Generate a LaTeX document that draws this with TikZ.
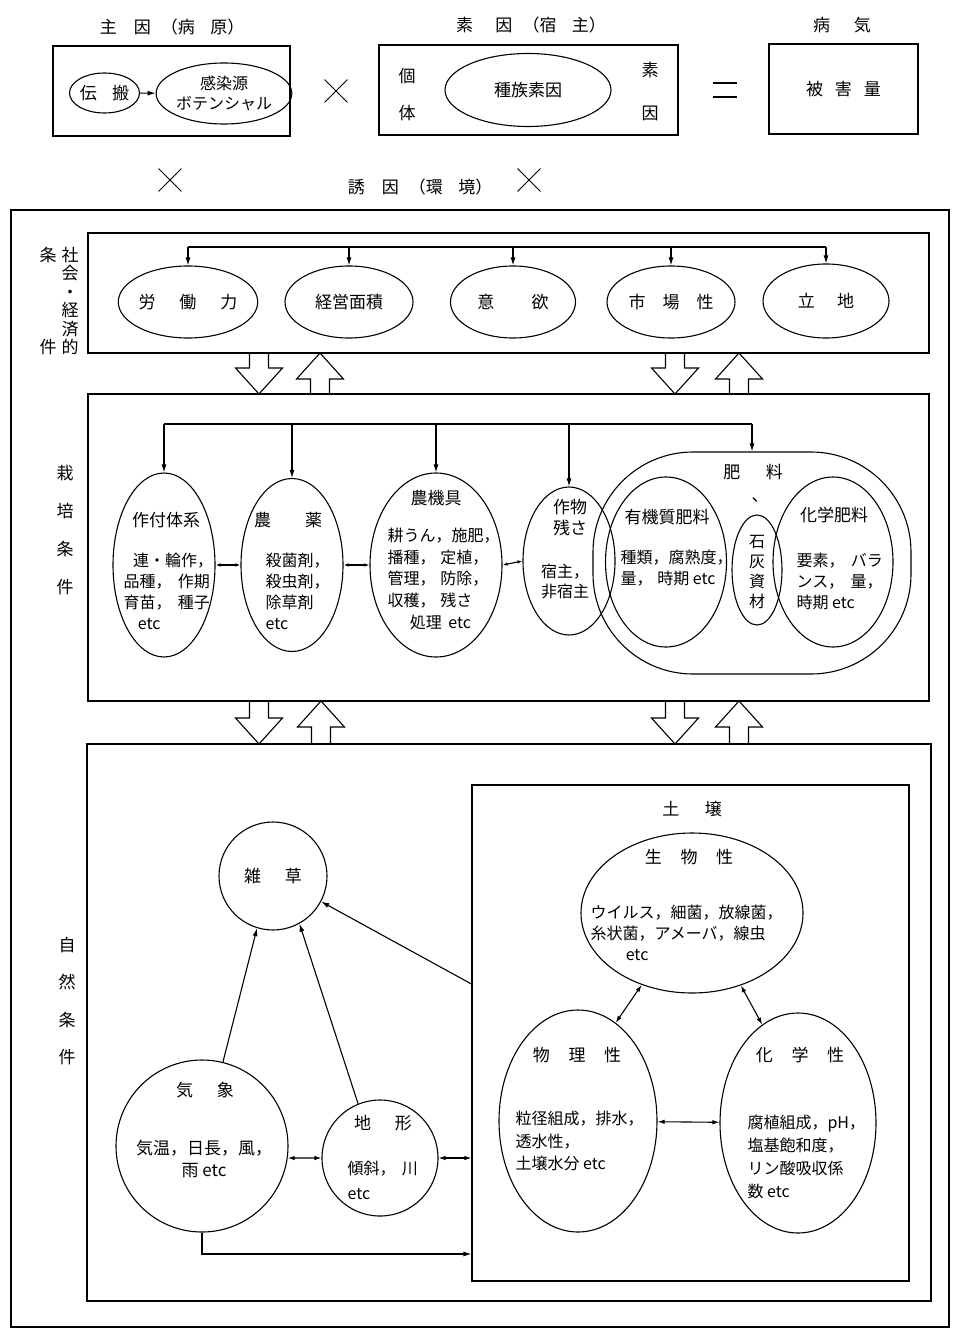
\documentclass[tikz,border=0pt]{standalone}
\usepackage{fontspec}
\setmainfont{Noto Sans CJK JP}
\usetikzlibrary{shapes.geometric,shapes.misc,arrows.meta}

\tikzset{
  oval/.style={draw, ellipse, inner sep=0pt},
  txt/.style={inner sep=0pt, align=left, anchor=north west, font=\fontsize{16}{21}\selectfont},
  tip/.style={-{Latex[length=8pt,width=5pt]}},
  both/.style={{Latex[length=7pt,width=4.5pt]}-{Latex[length=7pt,width=4.5pt]}},
  tiny/.style={{Latex[length=5pt,width=3.5pt]}-{Latex[length=5pt,width=3.5pt]}},
  times/.style={cross out, draw, minimum size=22pt, line width=0.9pt}
}

\begin{document}
\begin{tikzpicture}[x=1pt, y=-1pt, line width=1.1pt, font=\fontsize{17}{21}\selectfont]
\useasboundingbox (0,0) rectangle (952,1329);

% top: pathogen x host = disease
\node (t1) at (172,27) {主\hspace{1em}因\hspace{.6em}（病\hspace{.9em}原）};
\node (t2) at (531,25) {素\hspace{1.3em}因\hspace{.6em}（宿\hspace{.9em}主）};
\node (t3) at (842,25) {病\hspace{1.4em}気};
\node[draw, minimum width=237, minimum height=90] (pbox) at (171.5,91) {};
\node[oval, minimum width=70, minimum height=40] (den) at (104.5,93) {伝\hspace{.9em}搬};
\node[oval, minimum width=114, minimum height=61, align=center, font=\fontsize{16}{20}\selectfont] (kan) at (224,93.5) {感染源\\ボテンシャル};
\draw[tip] (den) -- (kan);
\node[times] (x1) at (336,91) {};
\node[draw, minimum width=299, minimum height=90] (hbox) at (528.5,90) {};
\node[oval, minimum width=166, minimum height=73] (shu) at (528,90) {種族素因};
\node (ko) at (407,76) {個};
\node (tai) at (407,113) {体};
\node (so) at (650,70) {素};
\node (inn) at (650,113) {因};
\draw (713,83) -- (737,83) (713,97) -- (737,97);
\node[draw, minimum width=149, minimum height=90] (dbox) at (843.5,89) {被\hspace{.7em}害\hspace{.7em}量};
\node[times] (x2) at (170,180) {};
\node (t4) at (420,187) {誘\hspace{1em}因\hspace{.6em}（環\hspace{.9em}境）};
\node[times] (x3) at (529,180) {};

% environment frame
\draw (11,210) rectangle (949,1327);

% socio-economic
\draw (88,233) rectangle (929,353);
\node[align=center, font=\fontsize{17}{18.4}\selectfont] (lab1) at (70,301) {社\\会\\・\\経\\済\\的};
\node (lab1a) at (48,255) {条};
\node (lab1b) at (48,347) {件};
\node[oval, minimum width=126, minimum height=72] (l1) at (188,302) {労\hspace{1.4em}働\hspace{1.4em}力};
\node[oval, minimum width=128, minimum height=72] (l2) at (349,302) {経営面積};
\node[oval, minimum width=125, minimum height=72] (l3) at (513,302) {意\hspace{2.2em}欲};
\node[oval, minimum width=128, minimum height=72] (l4) at (671,302) {市\hspace{1em}場\hspace{1em}性};
\node[oval, minimum width=126, minimum height=74] (l5) at (826,301) {立\hspace{1.3em}地};
\coordinate (bus1) at (0,247);
\draw (l1.north |- bus1) -- (l5.north |- bus1);
\foreach \n in {l1,l2,l3,l4,l5}
  \draw[tip] (\n.north |- bus1) -- (\n.north);

% block arrows between the layers
\foreach \x/\a/\b in {259/353/394, 675/353/394, 259/701/744, 675/701/744}
  \draw (\x-9.5,\a) -- (\x-9.5,\b-26) -- (\x-23.5,\b-26) -- (\x,\b) -- (\x+23.5,\b-26) -- (\x+9.5,\b-26) -- (\x+9.5,\a);
\foreach \x/\a/\b in {320/353/394, 739/353/394, 321/701/744, 739/701/744}
  \draw (\x-9.5,\b) -- (\x-9.5,\a+26) -- (\x-23.5,\a+26) -- (\x,\a) -- (\x+23.5,\a+26) -- (\x+9.5,\a+26) -- (\x+9.5,\b);

% cultivation
\draw (88,394) rectangle (929,701);
\node[align=center, font=\fontsize{17}{38}\selectfont] (lab2) at (65,530) {栽\\培\\条\\件};
\node[oval, minimum width=102, minimum height=184] (c1) at (164,565) {};
\node[oval, minimum width=102, minimum height=173] (c2) at (292,565) {};
\node[oval, minimum width=132, minimum height=184] (c3) at (436,565) {};
\node[oval, minimum width=92, minimum height=148] (c4) at (569,561) {};
\node[draw, rounded corners=100pt, minimum width=318, minimum height=222, inner sep=0pt] (fert) at (752,563) {};
\node[oval, minimum width=121, minimum height=170] (c5) at (666,562) {};
\node[oval, minimum width=50, minimum height=110] (c6) at (757,570) {};
\node[oval, minimum width=120, minimum height=170] (c7) at (833,562) {};
\coordinate (bus2) at (0,424);
\draw (c1.north |- bus2) -- (fert.north |- bus2);
\foreach \n in {c1,c2,c3,c4,fert}
  \draw[tip] (\n.north |- bus2) -- (\n.north);
\draw[tiny] (c1.east) -- (c2.west);
\draw[tiny] (c2.east) -- (c3.west);
\draw[tiny] (c3.east) -- (c4.west);

\node (c1t) at (166,520) {作付体系};
\node[txt] (c1b) at (123,552.5) {\hspace*{.6em}連・輪作，\\品種，\hspace*{.4em}作期\\育苗，\hspace*{.4em}種子\\\hspace*{.9em}etc};
\node (c2t) at (288,520) {農\hspace{2em}薬};
\node[txt] (c2b) at (265,552.5) {殺菌剤，\\殺虫剤，\\除草剤\\etc};
\node (c3t) at (436,498) {農機具};
\node[txt, font=\fontsize{16}{21.7}\selectfont] (c3b) at (387,527.5) {耕うん，施肥，\\播種，\hspace*{.3em}定植，\\管理，\hspace*{.3em}防除，\\収穫，\hspace*{.3em}残さ\\\hspace*{1.4em}処理\hspace*{.4em}etc};
\node[align=center] (c4t) at (570,517.5) {作物\\残さ};
\node[align=center, font=\fontsize{16}{20}\selectfont] (c4b) at (565,582) {宿主，\\非宿主};
\node (ft) at (753,472) {肥\hspace{1.5em}料};
\node (fc) at (760,500) {、};
\node (c5t) at (667,517) {有機質肥料};
\node[txt] (c5b) at (620,549.5) {種類，腐熟度，\\量，\hspace*{.3em}時期 etc};
\node[align=center, font=\fontsize{16}{20}\selectfont] (c6t) at (757,572) {石\\灰\\資\\材};
\node (c7t) at (834,515) {化学肥料};
\node[txt] (c7b) at (796,552.5) {要素，\hspace*{.4em}バラ\\ンス，\hspace*{.4em}量，\\時期 etc};

% natural conditions
\draw (87,744) rectangle (931,1301);
\node[align=center, font=\fontsize{17}{37.5}\selectfont] (lab3) at (67,1001) {自\\然\\条\\件};
\node[draw, minimum width=437, minimum height=496, inner sep=0pt] (soil) at (690.5,1033) {};
\node (st) at (692,809) {土\hspace{1.5em}壌};
\node[oval, minimum width=222, minimum height=160] (bio) at (692,913) {};
\node[oval, minimum width=158, minimum height=222] (phys) at (578,1121) {};
\node[oval, minimum width=156, minimum height=220] (chem) at (798,1123) {};
\node (biot) at (689,857) {生\hspace{1.1em}物\hspace{1.1em}性};
\node[txt] (biob) at (590,904.5) {ウイルス，細菌，放線菌，\\糸状菌，アメーバ，線虫\\\hspace*{2.2em}etc};
\node (physt) at (577,1055) {物\hspace{1.1em}理\hspace{1.1em}性};
\node[txt, font=\fontsize{16}{22.5}\selectfont] (physb) at (515,1110.5) {粒径組成，排水，\\透水性，\\土壌水分 etc};
\node (chemt) at (800,1055) {化\hspace{1.1em}学\hspace{1.1em}性};
\node[txt, font=\fontsize{16}{23}\selectfont] (chemb) at (747,1114.5) {腐植組成，pH，\\塩基飽和度，\\リン酸吸収係\\数 etc};
\draw[both] (bio.235) -- (phys.69);
\draw[both] (bio.304) -- (chem.110);
\draw[both] (phys) -- (chem);

\node[draw, circle, minimum size=108, inner sep=0pt] (weed) at (273,876) {雑\hspace{1.4em}草};
\node[draw, circle, minimum size=172, inner sep=0pt] (kisho) at (202,1146) {};
\node (kishot) at (205,1090) {気\hspace{1.4em}象};
\node[align=center, font=\fontsize{17}{22}\selectfont] (kishob) at (204,1159) {気温，日長，風，\\雨 etc};
\node[draw, circle, minimum size=116, inner sep=0pt] (chikei) at (380,1158) {};
\node (chikeit) at (383,1123) {地\hspace{1.4em}形};
\node[txt, font=\fontsize{16}{25}\selectfont] (chikeib) at (347,1160.5) {傾斜，\hspace*{.4em}川\\etc};
\draw[tip] (kisho.76) -- (weed.253);
\draw[tip] (chikei.112) -- (weed.299);
\draw[tip] ([yshift=49pt]soil.west) -- (weed.332);
\draw[both] (kisho.-8) -- (chikei.west);
\draw[both] (chikei.east) -- (chikei.east -| soil.west);
\draw[tip] (kisho.south) |- ([yshift=-221pt]soil.west);
\end{tikzpicture}
\end{document}
